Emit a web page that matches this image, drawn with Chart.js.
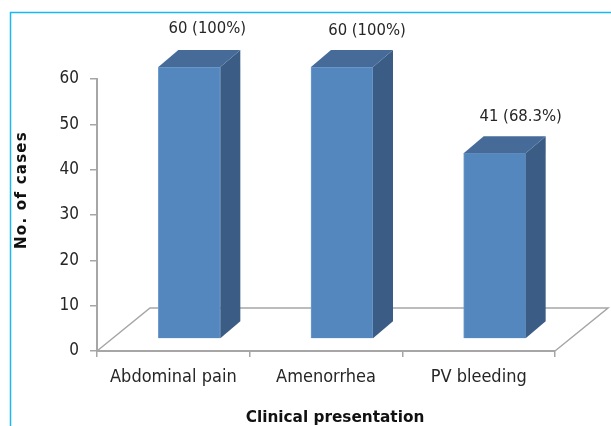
<!DOCTYPE html>
<html>
<head>
<meta charset="utf-8">
<title>Clinical presentation</title>
<script src="https://cdn.jsdelivr.net/npm/chart.js@4/dist/chart.umd.min.js"></script>
<style>
  body { margin: 0; background: #fff; }
  canvas { display: block; }
</style>
</head>
<body>
<canvas id="myChart" width="611" height="426"></canvas>
<script>
const categories = ['Abdominal pain', 'Amenorrhea', 'PV bleeding'];
const cases = [60, 60, 41];
const percents = ['100%', '100%', '68.3%'];
const yTicks = [0, 10, 20, 30, 40, 50, 60];

const fontFamily = '"DejaVu Sans Condensed", "DejaVu Sans"';
const axisColor = '#a6a6a6';

// the bars stand a bit inside the floor, so shift them off the axes
const barShift = { x: 16, y: -12 };
const barDepth = { x: 20, y: -17 };
const floorDepth = { x: 53, y: -43 };
const labelShift = [{ x: 34, y: -50 }, { x: 41, y: -48 }, { x: 42, y: -48 }];

const face = (ctx, pts, color) => {
  ctx.fillStyle = color;
  ctx.beginPath();
  pts.forEach((p, i) => i ? ctx.lineTo(p[0], p[1]) : ctx.moveTo(p[0], p[1]));
  ctx.closePath();
  ctx.fill();
};

const fakeThreeD = {
  id: 'fakeThreeD',
  beforeDraw(chart) {
    // cyan frame of the figure
    const ctx = chart.ctx;
    ctx.save();
    ctx.strokeStyle = '#19b9f0';
    ctx.lineWidth = 1.5;
    ctx.beginPath();
    ctx.moveTo(10.5, 426);
    ctx.lineTo(10.5, 12.5);
    ctx.lineTo(611, 12.5);
    ctx.stroke();
    ctx.restore();
  },
  beforeDatasetsDraw(chart) {
    // floor outline behind the bars
    const ctx = chart.ctx;
    const { left, right, bottom } = chart.chartArea;
    ctx.save();
    ctx.strokeStyle = axisColor;
    ctx.lineWidth = 1.5;
    ctx.beginPath();
    ctx.moveTo(left, bottom);
    ctx.lineTo(left + floorDepth.x, bottom + floorDepth.y);
    ctx.lineTo(right + floorDepth.x, bottom + floorDepth.y);
    ctx.lineTo(right, bottom);
    ctx.stroke();
    ctx.restore();
  },
  beforeDatasetDraw(chart) {
    chart.ctx.save();
    chart.ctx.translate(barShift.x, barShift.y);
  },
  afterDatasetDraw(chart, args) {
    const ctx = chart.ctx;
    args.meta.data.forEach((bar) => {
      const l = bar.x - bar.width / 2;
      const r = bar.x + bar.width / 2;
      const d = barDepth;
      face(ctx, [[r, bar.y], [r + d.x, bar.y + d.y], [r + d.x, bar.base + d.y], [r, bar.base]], '#3a5c85');
      face(ctx, [[l, bar.y], [l + d.x, bar.y + d.y], [r + d.x, bar.y + d.y], [r, bar.y]], '#466b98');
    });
    ctx.restore();
  },
  afterDraw(chart) {
    const ctx = chart.ctx;
    const meta = chart.getDatasetMeta(0);
    ctx.save();
    ctx.textAlign = 'center';
    ctx.textBaseline = 'middle';

    // value labels above the bars
    ctx.fillStyle = '#262626';
    ctx.font = '16.5px ' + fontFamily;
    meta.data.forEach((bar, i) => {
      ctx.fillText(cases[i] + ' (' + percents[i] + ')', bar.x + labelShift[i].x, bar.y + labelShift[i].y);
    });

    // axis titles
    ctx.fillStyle = '#111';
    ctx.font = 'bold 15.3px "DejaVu Sans"';
    ctx.fillText('Clinical presentation', 335, 418);
    ctx.font = 'bold 15px "DejaVu Sans"';
    ctx.letterSpacing = '1.25px';
    ctx.translate(22, 190);
    ctx.rotate(-Math.PI / 2);
    ctx.fillText('No. of cases', 0, 0);
    ctx.restore();
  }
};

const ctx = document.getElementById('myChart').getContext('2d');
const myChart = new Chart(ctx, {
  type: 'bar',
  data: {
    labels: categories,
    datasets: [{
      data: cases,
      backgroundColor: '#5587bf',
      borderColor: '#6f9ccd',
      borderWidth: 1,
      barThickness: 62,
      clip: false
    }]
  },
  plugins: [fakeThreeD],
  options: {
    responsive: false,
    animation: false,
    layout: { padding: { left: 0, right: 56, top: 79, bottom: 0 } },
    plugins: { legend: { display: false }, tooltip: { enabled: false } },
    scales: {
      x: {
        afterFit: (s) => { s.height = 75; s.paddingLeft = 0; s.paddingRight = 0; },
        border: { color: axisColor, width: 2 },
        grid: { drawOnChartArea: false, color: axisColor, tickLength: 6, lineWidth: 1.5 },
        ticks: { color: '#262626', font: { family: fontFamily, size: 18 }, padding: 10, maxRotation: 0 }
      },
      y: {
        min: 0,
        max: 60,
        afterFit: (s) => { s.width = 97; s.paddingTop = 0; s.paddingBottom = 0; },
        afterBuildTicks: (s) => { s.ticks = yTicks.map((v) => ({ value: v })); },
        border: { color: axisColor, width: 2 },
        grid: { drawOnChartArea: false, color: axisColor, tickLength: 7, lineWidth: 1.5 },
        ticks: { color: '#262626', font: { family: fontFamily, size: 17 }, padding: 11 }
      }
    }
  }
});
</script>
</body>
</html>
